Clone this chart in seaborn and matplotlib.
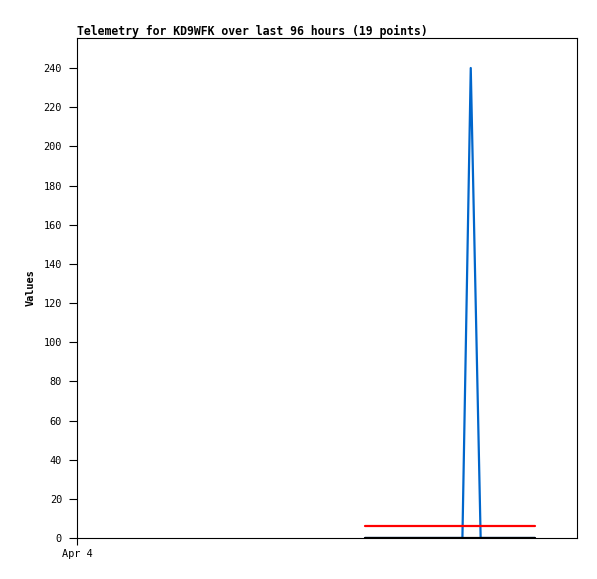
import matplotlib
matplotlib.use("Agg")
import matplotlib.pyplot as plt
import seaborn as sns
import pandas as pd

# hours since Apr 4 00:00
hours = [55.3, 57.2, 59.1, 61.0, 62.8, 64.7, 66.6, 68.5, 70.4, 72.2,
         74.0, 75.6, 77.5, 79.2, 81.0, 82.7, 84.5, 86.2, 87.9]
blue_vals = [0, 0, 0, 0, 0, 0, 0, 0, 0, 0, 0, 240, 0, 0, 0, 0, 0, 0, 0]
red_vals = [6] * 19
black_vals = [0] * 19
series_names = ["A", "B", "C"]
series_colors = ["#0066CC", "#FF0000", "#000000"]
yticks = list(range(0, 241, 20))
xtick_pos = [0]
xtick_labels = ["Apr 4"]
title = "Telemetry for KD9WFK over last 96 hours (19 points)"

df = pd.concat([
    pd.DataFrame({"t": hours, "v": blue_vals, "s": series_names[0]}),
    pd.DataFrame({"t": hours, "v": red_vals, "s": series_names[1]}),
    pd.DataFrame({"t": hours, "v": black_vals, "s": series_names[2]}),
])

sns.set_style("white")
plt.rcParams['font.family'] = ['DejaVu Sans Mono']
plt.rcParams['text.color'] = 'black'
plt.rcParams['axes.labelcolor'] = 'black'
plt.rcParams['xtick.color'] = 'black'
plt.rcParams['ytick.color'] = 'black'

fig = plt.figure(figsize=(5.97, 5.79), dpi=100)
ax = fig.add_axes([77/597, 41/579, 500/597, 500/579])
sns.lineplot(data=df, x="t", y="v", hue="s", palette=series_colors,
             hue_order=series_names, linewidth=1.6, legend=False, ax=ax,
             estimator=None, sort=False)

ax.set_xlim(0, 96)
ax.set_ylim(0, 500/1.9583)
ax.set_yticks(yticks)
ax.set_yticklabels([str(v) for v in yticks], fontsize=7.4)
ax.set_xticks(xtick_pos)
ax.set_xticklabels(xtick_labels, fontsize=7.4)
ax.tick_params(axis="y", direction="out", length=5.8, width=0.8,
               color="black", pad=5, left=True)
ax.tick_params(axis="x", direction="out", length=5, width=0.8,
               color="black", pad=3, bottom=True)
ax.set_xlabel("")
ax.set_ylabel("Values", fontsize=7.4, fontweight="bold", labelpad=6)
for sp in ax.spines.values():
    sp.set_visible(True)
    sp.set_color("black")
    sp.set_linewidth(0.8)
ax.set_title(title, loc="left", fontsize=8.3, fontweight="bold", pad=2)

fig.savefig("out.png", dpi=100, facecolor="white")
